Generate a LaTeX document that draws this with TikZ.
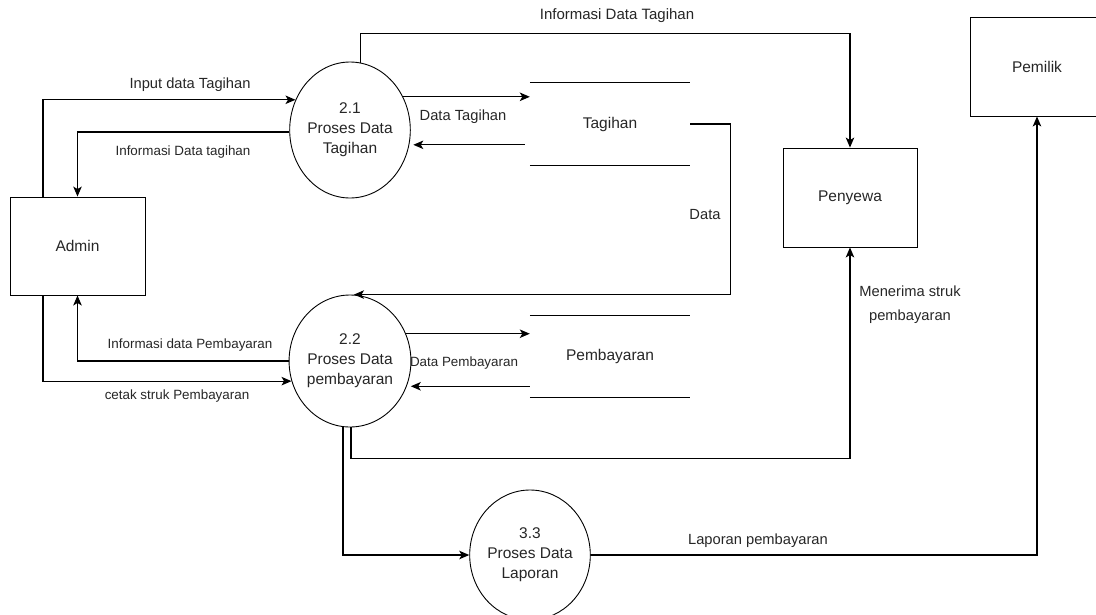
\documentclass[tikz,border=0pt]{standalone}
\usepackage{fontspec}
\setmainfont{Liberation Sans}
\usetikzlibrary{arrows.meta,shapes.geometric}

\begin{document}
\begin{tikzpicture}[x=1pt,y=-1pt,>={Stealth[length=10pt,width=8.5pt,inset=2.5pt]},
    proc/.style={draw,ellipse,line width=.9pt,inner sep=0pt,align=center,
      font=\fontsize{15.5}{20}\selectfont,text=black!85},
    ent/.style={draw,rectangle,line width=.9pt,font=\fontsize{15.5}{20}\selectfont,text=black!85},
    store/.style={minimum width=160pt,inner sep=0pt,font=\fontsize{15.5}{20}\selectfont,text=black!85},
    flow/.style={->,line width=1.1pt},
    lbl/.style={font=\fontsize{14.7}{24}\selectfont,text=black!85,align=center},
    lblsm/.style={font=\fontsize{13.4}{16}\selectfont,text=black!85}]
  \useasboundingbox (0,0) rectangle (1096,614);
  \clip (0,0) rectangle (1096,614);
  % entitas luar
  \node[ent,minimum width=135pt,minimum height=98pt] (admin) at (77.5,246) {Admin};
  \node[ent,minimum width=134pt,minimum height=99pt] (penyewa) at (850,197.5) {Penyewa};
  \node[ent,minimum width=134pt,minimum height=99pt] (pemilik) at (1037,66.5) {Pemilik};
  % proses
  \node[proc,minimum width=106pt,minimum height=136pt] (p21) at (350,130) {2.1\\Proses Data\\Tagihan};
  \node[proc,minimum width=106pt,minimum height=132pt] (p22) at (350,361) {2.2\\Proses Data\\pembayaran};
  \node[proc,minimum width=106pt,minimum height=130pt] (p33) at (530,555) {3.3\\Proses Data\\Laporan};
  % data store
  \node[store,minimum height=82pt] (tagihan) at (610,124) {Tagihan};
  \node[store,minimum height=81pt] (pembayaran) at (610,356.5) {Pembayaran};
  \draw[line width=1.1pt] (tagihan.north west) -- (tagihan.north east)
    (tagihan.south west) -- (tagihan.south east);
  \draw[line width=1.1pt] (pembayaran.north west) -- (pembayaran.north east)
    (pembayaran.south west) -- (pembayaran.south east);
  % aliran data
  \draw[flow] ([xshift=-34.5pt]admin.north) |- (p21.151);
  \draw[flow] ([yshift=-2pt]p21.west) -| (admin.north);
  \draw[flow] (p22.west) -| (admin.south);
  \draw[flow] ([xshift=-34.5pt]admin.south) |- (p22.199);
  \draw[flow] (p21.32) -- (p21.32 -| tagihan.west);
  \draw[flow,shorten <=5pt,shorten >=4pt] (tagihan.west |- p21.-14) -- (p21.-14);
  \draw[flow] (p22.26) -- (p22.26 -| pembayaran.west);
  \draw[flow,shorten >=4pt] (pembayaran.west |- p22.-24) -- (p22.-24);
  \draw[flow] (tagihan.east) -- ++(40,0) |- ([xshift=4pt]p22.north);
  \draw[flow] (p21.81) -- ++(0,-29) -| (penyewa.north);
  \draw[flow] ([xshift=1pt]p22.south) -- ++(0,31) -| (penyewa.south);
  \draw[flow] ([xshift=-7pt]p22.south) |- (p33.west);
  \draw[flow] (p33.east) -| (pemilik.south);
  % label
  \node[lbl] (l-input) at (190,85) {Input data Tagihan};
  \node[lblsm] (l-infotag) at (183,152) {Informasi Data tagihan};
  \node[lblsm] (l-infobay) at (190,345) {Informasi data Pembayaran};
  \node[lblsm] (l-cetak) at (177,396) {cetak struk Pembayaran};
  \node[lbl] (l-datatag) at (463,117) {Data Tagihan};
  \node[lblsm] (l-databay) at (464,363) {Data Pembayaran};
  \node[lbl] (l-data) at (705,215) {Data};
  \node[lbl,font=\fontsize{15}{20}\selectfont] (l-infotop) at (617,16) {Informasi Data Tagihan};
  \node[lbl] (l-terima) at (910,305) {Menerima struk\\pembayaran};
  \node[lbl] (l-lapor) at (758,541) {Laporan pembayaran};
\end{tikzpicture}
\end{document}
